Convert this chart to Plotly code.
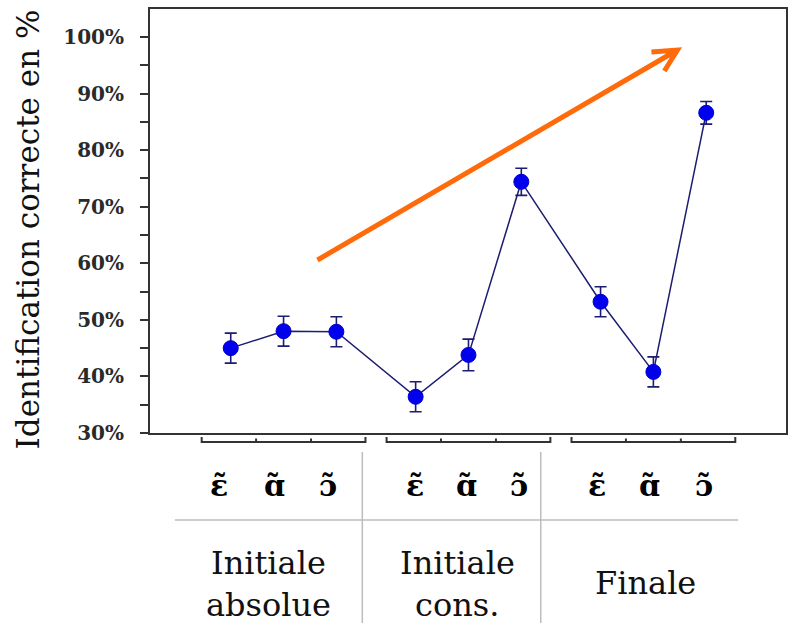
import plotly.graph_objects as go

# ---------------- data ----------------
group_labels = [["Initiale", "absolue"], ["Initiale", "cons."], ["Finale"]]
vowels = ["ε̃", "ɑ̃", "ɔ̃"]
x_pos = [1, 2, 3, 4.5, 5.5, 6.5, 8, 9, 10]
values = [45.0, 48.0, 47.9, 36.4, 43.8, 74.4, 53.2, 40.8, 86.6]
errors = [2.65, 2.65, 2.65, 2.65, 2.8, 2.4, 2.65, 2.65, 2.0]
group_centers = [2, 5.5, 9]
y_ticks = [30, 40, 50, 60, 70, 80, 90, 100]
y_tick_labels = [f"{v}%" for v in y_ticks]
y_title = "Identification correcte en %"

# ---------------- layout helpers (pixel -> paper) ----------------
W, H = 790, 623
L, R, T, B = 150, 2, 9, 190
PW, PH = W - L - R, H - T - B


def px(xp):
    return (xp - L) / PW


def py(yp):
    return (T + PH - yp) / PH


fig = go.Figure()

fig.add_trace(go.Scatter(
    x=x_pos, y=values,
    mode="lines+markers",
    line=dict(color="#1c1c70", width=1.5),
    marker=dict(color="#0000ee", size=15, line=dict(color="#0000cc", width=1)),
    error_y=dict(type="data", array=errors, visible=True,
                 color="#1c1c70", thickness=1.6, width=6),
    showlegend=False,
))

shapes = []
annotations = []

# brackets under each group
for c in group_centers:
    half = 1.55
    shapes.append(dict(type="path", xref="x", yref="paper",
                       path=f"M {c-half} {py(437)} L {c-half} {py(442)} L {c+half} {py(442)} L {c+half} {py(437)}",
                       line=dict(color="#333333", width=2)))
    for d in (-0.52, 0.52):
        shapes.append(dict(type="line", xref="x", yref="paper",
                           x0=c + d, x1=c + d, y0=py(438.5), y1=py(442),
                           line=dict(color="#333333", width=2)))

# vowel labels
label_shift = [-12, -9, -8, -1, -2, -2, -4, -4, -2]
for i, xv in enumerate(x_pos):
    annotations.append(dict(xref="x", yref="paper", x=xv, y=py(485),
                            text=vowels[i % 3], showarrow=False, xshift=label_shift[i],
                            font=dict(family="DejaVu Serif", size=30, color="#000000",
                                      weight="bold"),
                            xanchor="center", yanchor="middle"))

# table grid
col_bounds = [175, 363, 542, 740]
shapes.append(dict(type="line", xref="paper", yref="paper",
                   x0=px(col_bounds[0]), x1=px(col_bounds[-1]), y0=py(520), y1=py(520),
                   line=dict(color="#bdbdbd", width=1.5)))
for xb in col_bounds[1:-1]:
    shapes.append(dict(type="line", xref="paper", yref="paper",
                       x0=px(xb), x1=px(xb), y0=py(452), y1=py(623),
                       line=dict(color="#bdbdbd", width=1.5)))

# group labels
label_cx = [269, 458, 647]
for gi, lines in enumerate(group_labels):
    ys = [563, 605] if len(lines) == 2 else [583]
    for txt, yy in zip(lines, ys):
        annotations.append(dict(xref="paper", yref="paper", x=px(label_cx[gi]), y=py(yy),
                                text=txt, showarrow=False,
                                font=dict(family="DejaVu Serif", size=32, color="#111111"),
                                xanchor="center", yanchor="middle"))

# y-axis title
annotations.append(dict(xref="paper", yref="paper", x=px(28), y=py(229),
                        text=y_title, showarrow=False, textangle=-90,
                        font=dict(family="DejaVu Serif, serif", size=31, color="#111111"),
                        xanchor="center", yanchor="middle"))

# orange arrow
tail, tip = (318, 260), (679, 50)
arm1, arm2 = (653, 52), (666, 71)
shapes.append(dict(type="path", xref="paper", yref="paper",
                   path=(f"M {px(tail[0])} {py(tail[1])} L {px(tip[0])} {py(tip[1])} "
                         f"M {px(arm1[0])} {py(arm1[1])} L {px(tip[0])} {py(tip[1])} "
                         f"L {px(arm2[0])} {py(arm2[1])}"),
                   line=dict(color="#ff6a0a", width=5)))

fig.update_layout(
    width=W, height=H,
    margin=dict(l=L, r=R, t=T, b=B),
    paper_bgcolor="white", plot_bgcolor="white",
    shapes=shapes, annotations=annotations,
    xaxis=dict(range=[-0.528, 11.51], showticklabels=False, ticks="",
               showgrid=False, zeroline=False, showline=True, mirror=True,
               linecolor="#333333", linewidth=2),
    yaxis=dict(range=[30, 104.95], tickmode="array", tickvals=y_ticks,
               ticktext=y_tick_labels,
               ticks="outside", ticklen=8, tickwidth=1.5, tickcolor="#333333",
               minor=dict(dtick=5, ticks="outside", ticklen=8, tickwidth=1.5,
                          tickcolor="#333333"),
               ticklabelstandoff=12,
               tickfont=dict(family="DejaVu Serif", size=20, color="#2a2a2a", weight="bold"),
               showgrid=False, zeroline=False, showline=True, mirror=True,
               linecolor="#333333", linewidth=2),
)

fig.write_html("out.html")
